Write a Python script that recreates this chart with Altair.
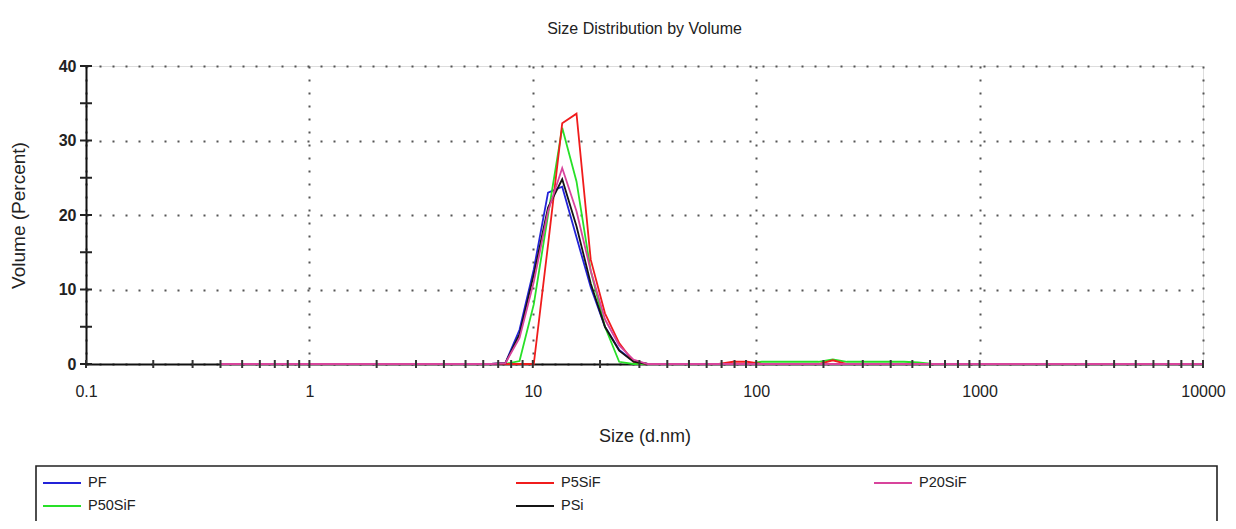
import altair as alt
import pandas as pd

# Size classes (d.nm)
sizes = [0.4, 0.4632, 0.5365, 0.6213, 0.7195, 0.8332, 0.9649, 1.117, 1.294, 1.499,
         1.736, 2.01, 2.328, 2.696, 3.122, 3.615, 4.187, 4.849, 5.615, 6.503,
         7.531, 8.721, 10.1, 11.7, 13.54, 15.69, 18.17, 21.04, 24.36, 28.21,
         32.67, 37.84, 43.82, 50.75, 58.77, 68.06, 78.82, 91.28, 105.7, 122.4,
         141.8, 164.2, 190.1, 220.2, 255.0, 295.3, 342.0, 396.1, 458.7, 531.2,
         615.1, 712.4, 825.0, 955.4, 1106, 1281, 1484, 1718, 1990, 2305,
         2669, 3091, 3580, 4145, 4801, 5560, 6439, 7456, 8635, 10000]

pf = [0, 0, 0, 0, 0, 0, 0, 0, 0, 0,
      0, 0, 0, 0, 0, 0, 0, 0, 0, 0,
      0.1, 4.6, 12.7, 23.0, 23.8, 17.0, 10.3, 5.0, 1.9, 0.4,
      0, 0, 0, 0, 0, 0, 0, 0, 0, 0,
      0, 0, 0, 0, 0, 0, 0, 0, 0, 0,
      0, 0, 0, 0, 0, 0, 0, 0, 0, 0,
      0, 0, 0, 0, 0, 0, 0, 0, 0, 0]

p5sif = [0, 0, 0, 0, 0, 0, 0, 0, 0, 0,
         0, 0, 0, 0, 0, 0, 0, 0, 0, 0,
         0, 0, 0, 16.0, 32.3, 33.6, 14.0, 6.8, 2.8, 0.3,
         0, 0, 0, 0, 0, 0, 0.3, 0.3, 0, 0,
         0, 0, 0, 0.5, 0, 0, 0, 0, 0, 0,
         0, 0, 0, 0, 0, 0, 0, 0, 0, 0,
         0, 0, 0, 0, 0, 0, 0, 0, 0, 0]

p20sif = [0, 0, 0, 0, 0, 0, 0, 0, 0, 0,
          0, 0, 0, 0, 0, 0, 0, 0, 0, 0,
          0.1, 3.5, 11.0, 20.5, 26.3, 20.5, 12.5, 6.0, 2.5, 0.6,
          0, 0, 0, 0, 0, 0, 0, 0, 0, 0,
          0, 0, 0, 0, 0, 0, 0, 0, 0, 0,
          0, 0, 0, 0, 0, 0, 0, 0, 0, 0,
          0, 0, 0, 0, 0, 0, 0, 0, 0, 0]

p50sif = [0, 0, 0, 0, 0, 0, 0, 0, 0, 0,
          0, 0, 0, 0, 0, 0, 0, 0, 0, 0,
          0, 0.4, 8.0, 20.0, 31.7, 24.5, 12.5, 5.0, 0.3, 0,
          0, 0, 0, 0, 0, 0, 0, 0, 0.3, 0.3,
          0.3, 0.3, 0.3, 0.6, 0.3, 0.3, 0.3, 0.3, 0.3, 0.2,
          0, 0, 0, 0, 0, 0, 0, 0, 0, 0,
          0, 0, 0, 0, 0, 0, 0, 0, 0, 0]

psi = [0, 0, 0, 0, 0, 0, 0, 0, 0, 0,
       0, 0, 0, 0, 0, 0, 0, 0, 0, 0,
       0.1, 4.0, 12.0, 21.0, 24.8, 18.5, 10.8, 5.0, 1.8, 0.3,
       0, 0, 0, 0, 0, 0, 0, 0, 0, 0,
       0, 0, 0, 0, 0, 0, 0, 0, 0, 0,
       0, 0, 0, 0, 0, 0, 0, 0, 0, 0,
       0, 0, 0, 0, 0, 0, 0, 0, 0, 0]

series_names = ["PF", "P5SiF", "P20SiF", "P50SiF", "PSi"]
series_values = [pf, p5sif, p20sif, p50sif, psi]
series_colors = {"PF": "#2323d8", "P5SiF": "#f01c1c", "P20SiF": "#d8449c",
                 "P50SiF": "#28e028", "PSi": "#151515"}

x_decades = [0.1, 1, 10, 100, 1000, 10000]
x_minor = [m * d for d in [0.1, 1, 10, 100, 1000] for m in range(1, 10)] + [10000]
y_major = [0, 10, 20, 30, 40]
y_minor = [0, 5, 10, 15, 20, 25, 30, 35, 40]

rows = []
for name, vals in zip(series_names, series_values):
    for s, v in zip(sizes, vals):
        rows.append({"size": s, "volume": v, "series": name})
df = pd.DataFrame(rows)

FONT = "Liberation Sans"
W, H = 1117, 298

x_scale = alt.Scale(type="log", domain=[0.1, 10000], nice=False)
y_scale = alt.Scale(domain=[0, 40], nice=False)

x_axis = alt.Axis(title="Size (d.nm)", values=x_decades, format="~g",
                  grid=True, gridDash=[2, 11], gridColor="#555", gridWidth=2,
                  domainColor="#111", domainWidth=2, ticks=False, tickSize=0,
                  labelPadding=19, labelFont=FONT, labelFontSize=16, labelColor="#222",
                  labelFlush=False, labelOverlap=False,
                  titleFont=FONT, titleFontSize=18, titleFontWeight="normal",
                  titleColor="#222", titlePadding=28, zindex=0)
y_axis = alt.Axis(title="Volume (Percent)", values=y_major,
                  grid=True, gridDash=[2, 11], gridColor="#555", gridWidth=2,
                  domainColor="#111", domainWidth=2, ticks=False, tickSize=0,
                  labelPadding=10, labelFont=FONT, labelFontSize=16, labelColor="#222",
                  labelFontWeight="bold",
                  titleFont=FONT, titleFontSize=19, titleFontWeight="normal",
                  titleColor="#222", titlePadding=30, zindex=0)

# legend slot of each series: (column x, row y) relative to the plot origin
legend_slots = {"PF": (-44, 397), "P5SiF": (429, 397), "P20SiF": (787, 397),
                "P50SiF": (-44, 420), "PSi": (429, 420)}


def line_layer(name):
    sub = df[df["series"] == name]
    lx, ly = legend_slots[name]
    return alt.Chart(sub).mark_line(strokeWidth=1.8).encode(
        x=alt.X("size:Q", scale=x_scale, axis=x_axis),
        y=alt.Y("volume:Q", scale=y_scale, axis=y_axis),
        color=alt.Color(
            "series:N",
            scale=alt.Scale(domain=[name], range=[series_colors[name]]),
            legend=alt.Legend(
                orient="none", legendX=lx, legendY=ly, title=None,
                direction="vertical", symbolType="stroke", symbolSize=1444,
                symbolStrokeWidth=2, labelFont=FONT, labelFontSize=14.5,
                labelColor="#222", labelOffset=6, padding=0,
            ),
        ),
    )


# drawing order: magenta on top
draw_order = ["PF", "P50SiF", "P5SiF", "PSi", "P20SiF"]
line_layers = [line_layer(n) for n in draw_order]

x_ticks = alt.Chart(pd.DataFrame({"size": x_minor})).mark_rule(
    color="#333", strokeWidth=2).encode(
    x=alt.X("size:Q", scale=x_scale, axis=x_axis),
    y=alt.value(H - 4), y2=alt.value(H + 4),
)
y_ticks = alt.Chart(pd.DataFrame({"volume": y_minor})).mark_rule(
    color="#222", strokeWidth=2).encode(
    y=alt.Y("volume:Q", scale=y_scale, axis=y_axis),
    x=alt.value(-6), x2=alt.value(6),
)
legend_box = alt.Chart(pd.DataFrame({"a": [0]})).mark_rect(
    fill="white", fillOpacity=0, stroke="#222", strokeWidth=1.6).encode(
    x=alt.value(-50), x2=alt.value(1131), y=alt.value(400), y2=alt.value(480),
)

chart = alt.layer(legend_box, *line_layers, x_ticks, y_ticks).resolve_scale(
    color="independent"
).properties(
    width=W, height=H,
    title=alt.TitleParams("Size Distribution by Volume", font=FONT, fontSize=16,
                          fontWeight="normal", color="#222", anchor="middle",
                          offset=21),
    autosize=alt.AutoSizeParams(type="none"),
    padding={"left": 78, "top": 58, "right": 25, "bottom": 157},
).configure_view(stroke=None).configure(background="white")

chart.save("out.html", embed_options={"renderer": "svg", "actions": False})
